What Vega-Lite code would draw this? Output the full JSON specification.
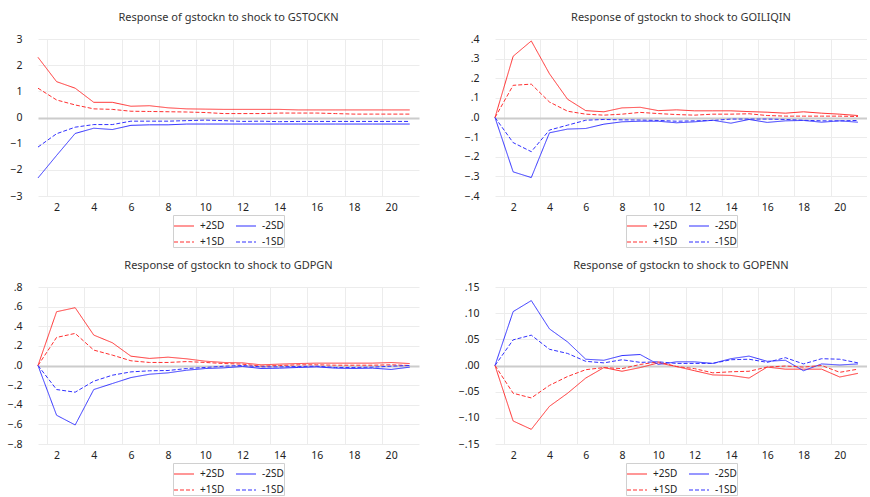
{
  "$schema": "https://vega.github.io/schema/vega-lite/v6.json",
  "padding": {"top": 12, "left": 0, "right": 0, "bottom": 0},
  "background": "white",
  "config": {
    "font": "Noto Sans",
    "view": {"stroke": null},
    "axis": {"domain": false, "ticks": false, "labelFontSize": 10.5, "labelColor": "#222222", "title": null, "gridColor": "#ececec"},
    "title": {"fontSize": 11, "fontWeight": "normal", "color": "#333333", "offset": 11},
    "legend": {"orient": "bottom", "layout": {"bottom": {"anchor": "middle"}}, "columns": 2, "title": null, "symbolType": "stroke", "symbolSize": 400, "symbolStrokeWidth": 1.2, "labelFontSize": 10, "labelOffset": 5, "columnPadding": 8, "rowPadding": -8, "strokeColor": "#d0d0d0", "padding": 0, "offset": 2, "labelColor": "#222222"}
  },
  "datasets": {
    "irf": [
      {"panel":"GSTOCKN","period":1,"+2SD":2.3,"-2SD":-2.31,"+1SD":1.12,"-1SD":-1.13},
      {"panel":"GSTOCKN","period":2,"+2SD":1.37,"-2SD":-1.45,"+1SD":0.67,"-1SD":-0.62},
      {"panel":"GSTOCKN","period":3,"+2SD":1.12,"-2SD":-0.61,"+1SD":0.48,"-1SD":-0.37},
      {"panel":"GSTOCKN","period":4,"+2SD":0.58,"-2SD":-0.41,"+1SD":0.33,"-1SD":-0.27},
      {"panel":"GSTOCKN","period":5,"+2SD":0.58,"-2SD":-0.46,"+1SD":0.31,"-1SD":-0.27},
      {"panel":"GSTOCKN","period":6,"+2SD":0.43,"-2SD":-0.3,"+1SD":0.24,"-1SD":-0.14},
      {"panel":"GSTOCKN","period":7,"+2SD":0.45,"-2SD":-0.28,"+1SD":0.23,"-1SD":-0.14},
      {"panel":"GSTOCKN","period":8,"+2SD":0.37,"-2SD":-0.28,"+1SD":0.22,"-1SD":-0.14},
      {"panel":"GSTOCKN","period":9,"+2SD":0.33,"-2SD":-0.25,"+1SD":0.21,"-1SD":-0.12},
      {"panel":"GSTOCKN","period":10,"+2SD":0.32,"-2SD":-0.25,"+1SD":0.19,"-1SD":-0.1},
      {"panel":"GSTOCKN","period":11,"+2SD":0.31,"-2SD":-0.25,"+1SD":0.15,"-1SD":-0.12},
      {"panel":"GSTOCKN","period":12,"+2SD":0.31,"-2SD":-0.25,"+1SD":0.15,"-1SD":-0.15},
      {"panel":"GSTOCKN","period":13,"+2SD":0.31,"-2SD":-0.25,"+1SD":0.15,"-1SD":-0.14},
      {"panel":"GSTOCKN","period":14,"+2SD":0.31,"-2SD":-0.25,"+1SD":0.17,"-1SD":-0.16},
      {"panel":"GSTOCKN","period":15,"+2SD":0.29,"-2SD":-0.25,"+1SD":0.17,"-1SD":-0.15},
      {"panel":"GSTOCKN","period":16,"+2SD":0.29,"-2SD":-0.25,"+1SD":0.17,"-1SD":-0.15},
      {"panel":"GSTOCKN","period":17,"+2SD":0.29,"-2SD":-0.25,"+1SD":0.15,"-1SD":-0.15},
      {"panel":"GSTOCKN","period":18,"+2SD":0.29,"-2SD":-0.25,"+1SD":0.13,"-1SD":-0.15},
      {"panel":"GSTOCKN","period":19,"+2SD":0.29,"-2SD":-0.25,"+1SD":0.13,"-1SD":-0.15},
      {"panel":"GSTOCKN","period":20,"+2SD":0.29,"-2SD":-0.25,"+1SD":0.13,"-1SD":-0.15},
      {"panel":"GSTOCKN","period":21,"+2SD":0.29,"-2SD":-0.25,"+1SD":0.13,"-1SD":-0.15},

      {"panel":"GOILIQIN","period":1,"+2SD":0,"-2SD":0,"+1SD":0,"-1SD":0},
      {"panel":"GOILIQIN","period":2,"+2SD":0.312,"-2SD":-0.277,"+1SD":0.164,"-1SD":-0.128},
      {"panel":"GOILIQIN","period":3,"+2SD":0.39,"-2SD":-0.306,"+1SD":0.17,"-1SD":-0.174},
      {"panel":"GOILIQIN","period":4,"+2SD":0.223,"-2SD":-0.078,"+1SD":0.079,"-1SD":-0.064},
      {"panel":"GOILIQIN","period":5,"+2SD":0.093,"-2SD":-0.059,"+1SD":0.032,"-1SD":-0.039},
      {"panel":"GOILIQIN","period":6,"+2SD":0.035,"-2SD":-0.056,"+1SD":0.017,"-1SD":-0.014},
      {"panel":"GOILIQIN","period":7,"+2SD":0.029,"-2SD":-0.034,"+1SD":0.012,"-1SD":-0.01},
      {"panel":"GOILIQIN","period":8,"+2SD":0.049,"-2SD":-0.022,"+1SD":0.017,"-1SD":-0.012},
      {"panel":"GOILIQIN","period":9,"+2SD":0.052,"-2SD":-0.019,"+1SD":0.026,"-1SD":-0.013},
      {"panel":"GOILIQIN","period":10,"+2SD":0.035,"-2SD":-0.019,"+1SD":0.02,"-1SD":-0.015},
      {"panel":"GOILIQIN","period":11,"+2SD":0.039,"-2SD":-0.027,"+1SD":0.015,"-1SD":-0.019},
      {"panel":"GOILIQIN","period":12,"+2SD":0.034,"-2SD":-0.022,"+1SD":0.012,"-1SD":-0.017},
      {"panel":"GOILIQIN","period":13,"+2SD":0.034,"-2SD":-0.014,"+1SD":0.017,"-1SD":-0.015},
      {"panel":"GOILIQIN","period":14,"+2SD":0.034,"-2SD":-0.029,"+1SD":0.017,"-1SD":-0.008},
      {"panel":"GOILIQIN","period":15,"+2SD":0.03,"-2SD":-0.01,"+1SD":0.019,"-1SD":-0.008},
      {"panel":"GOILIQIN","period":16,"+2SD":0.027,"-2SD":-0.025,"+1SD":0.01,"-1SD":-0.008},
      {"panel":"GOILIQIN","period":17,"+2SD":0.022,"-2SD":-0.017,"+1SD":0.007,"-1SD":-0.01},
      {"panel":"GOILIQIN","period":18,"+2SD":0.029,"-2SD":-0.015,"+1SD":0.007,"-1SD":-0.014},
      {"panel":"GOILIQIN","period":19,"+2SD":0.022,"-2SD":-0.024,"+1SD":0.007,"-1SD":-0.017},
      {"panel":"GOILIQIN","period":20,"+2SD":0.017,"-2SD":-0.017,"+1SD":0.007,"-1SD":-0.017},
      {"panel":"GOILIQIN","period":21,"+2SD":0.01,"-2SD":-0.024,"+1SD":0.005,"-1SD":-0.015},

      {"panel":"GDPGN","period":1,"+2SD":0,"-2SD":0,"+1SD":0,"-1SD":0},
      {"panel":"GDPGN","period":2,"+2SD":0.548,"-2SD":-0.507,"+1SD":0.286,"-1SD":-0.245},
      {"panel":"GDPGN","period":3,"+2SD":0.589,"-2SD":-0.606,"+1SD":0.327,"-1SD":-0.272},
      {"panel":"GDPGN","period":4,"+2SD":0.31,"-2SD":-0.245,"+1SD":0.157,"-1SD":-0.16},
      {"panel":"GDPGN","period":5,"+2SD":0.232,"-2SD":-0.184,"+1SD":0.106,"-1SD":-0.099},
      {"panel":"GDPGN","period":6,"+2SD":0.095,"-2SD":-0.123,"+1SD":0.048,"-1SD":-0.065},
      {"panel":"GDPGN","period":7,"+2SD":0.072,"-2SD":-0.089,"+1SD":0.031,"-1SD":-0.054},
      {"panel":"GDPGN","period":8,"+2SD":0.085,"-2SD":-0.075,"+1SD":0.031,"-1SD":-0.051},
      {"panel":"GDPGN","period":9,"+2SD":0.068,"-2SD":-0.048,"+1SD":0.04,"-1SD":-0.031},
      {"panel":"GDPGN","period":10,"+2SD":0.044,"-2SD":-0.031,"+1SD":0.031,"-1SD":-0.02},
      {"panel":"GDPGN","period":11,"+2SD":0.031,"-2SD":-0.024,"+1SD":0.02,"-1SD":-0.007},
      {"panel":"GDPGN","period":12,"+2SD":0.027,"-2SD":-0.01,"+1SD":0.014,"-1SD":0},
      {"panel":"GDPGN","period":13,"+2SD":0.007,"-2SD":-0.03,"+1SD":-0.007,"-1SD":-0.014},
      {"panel":"GDPGN","period":14,"+2SD":0.014,"-2SD":-0.027,"+1SD":0,"-1SD":-0.014},
      {"panel":"GDPGN","period":15,"+2SD":0.02,"-2SD":-0.02,"+1SD":0.007,"-1SD":-0.01},
      {"panel":"GDPGN","period":16,"+2SD":0.024,"-2SD":-0.014,"+1SD":0.007,"-1SD":-0.007},
      {"panel":"GDPGN","period":17,"+2SD":0.024,"-2SD":-0.027,"+1SD":0.003,"-1SD":-0.02},
      {"panel":"GDPGN","period":18,"+2SD":0.024,"-2SD":-0.03,"+1SD":0.003,"-1SD":-0.02},
      {"panel":"GDPGN","period":19,"+2SD":0.024,"-2SD":-0.027,"+1SD":0.003,"-1SD":-0.017},
      {"panel":"GDPGN","period":20,"+2SD":0.03,"-2SD":-0.04,"+1SD":0.007,"-1SD":-0.007},
      {"panel":"GDPGN","period":21,"+2SD":0.02,"-2SD":-0.017,"+1SD":0,"-1SD":0},

      {"panel":"GOPENN","period":1,"+2SD":0,"-2SD":0,"+1SD":0,"-1SD":0},
      {"panel":"GOPENN","period":2,"+2SD":-0.106,"-2SD":0.103,"+1SD":-0.053,"-1SD":0.049},
      {"panel":"GOPENN","period":3,"+2SD":-0.122,"-2SD":0.124,"+1SD":-0.062,"-1SD":0.058},
      {"panel":"GOPENN","period":4,"+2SD":-0.078,"-2SD":0.07,"+1SD":-0.038,"-1SD":0.031},
      {"panel":"GOPENN","period":5,"+2SD":-0.053,"-2SD":0.045,"+1SD":-0.021,"-1SD":0.023},
      {"panel":"GOPENN","period":6,"+2SD":-0.024,"-2SD":0.012,"+1SD":-0.008,"-1SD":0.008},
      {"panel":"GOPENN","period":7,"+2SD":-0.004,"-2SD":0.01,"+1SD":-0.004,"-1SD":0.005},
      {"panel":"GOPENN","period":8,"+2SD":-0.011,"-2SD":0.019,"+1SD":-0.006,"-1SD":0.011},
      {"panel":"GOPENN","period":9,"+2SD":-0.004,"-2SD":0.021,"+1SD":0.002,"-1SD":0.006},
      {"panel":"GOPENN","period":10,"+2SD":0.005,"-2SD":0.002,"+1SD":0.007,"-1SD":0.007},
      {"panel":"GOPENN","period":11,"+2SD":-0.002,"-2SD":0.007,"+1SD":-0.002,"-1SD":0.004},
      {"panel":"GOPENN","period":12,"+2SD":-0.01,"-2SD":0.007,"+1SD":-0.006,"-1SD":0.004},
      {"panel":"GOPENN","period":13,"+2SD":-0.018,"-2SD":0.004,"+1SD":-0.014,"-1SD":0.004},
      {"panel":"GOPENN","period":14,"+2SD":-0.019,"-2SD":0.013,"+1SD":-0.012,"-1SD":0.011},
      {"panel":"GOPENN","period":15,"+2SD":-0.024,"-2SD":0.018,"+1SD":-0.011,"-1SD":0.012},
      {"panel":"GOPENN","period":16,"+2SD":-0.003,"-2SD":0.008,"+1SD":-0.003,"-1SD":0.006},
      {"panel":"GOPENN","period":17,"+2SD":-0.007,"-2SD":0.01,"+1SD":-0.001,"-1SD":0.015},
      {"panel":"GOPENN","period":18,"+2SD":-0.007,"-2SD":-0.01,"+1SD":-0.003,"-1SD":0.003},
      {"panel":"GOPENN","period":19,"+2SD":-0.007,"-2SD":0.003,"+1SD":0,"-1SD":0.013},
      {"panel":"GOPENN","period":20,"+2SD":-0.022,"-2SD":0.001,"+1SD":-0.013,"-1SD":0.012},
      {"panel":"GOPENN","period":21,"+2SD":-0.015,"-2SD":0.003,"+1SD":-0.007,"-1SD":0.005}
    ]
  },
  "spacing": 12,
  "resolve": {"scale": {"color": "independent", "strokeDash": "independent"}},
  "vconcat": [
    {
      "spacing": 38,
      "resolve": {"scale": {"color": "independent", "strokeDash": "independent"}},
      "hconcat": [
        {
          "title": "Response of gstockn to shock to GSTOCKN",
          "width": 381, "height": 157,
          "data": {"name": "irf"},
          "transform": [{"filter": "datum.panel === 'GSTOCKN'"}, {"fold": ["+2SD", "-2SD", "+1SD", "-1SD"], "as": ["series", "value"]}],
          "layer": [
            {
              "mark": {"type": "line", "strokeOpacity": 0},
              "encoding": {
                "x": {"field": "period", "type": "quantitative", "scale": {"domain": [1, 21.5], "nice": false, "zero": false}, "axis": {"orient": "top", "values": [1.5, 3.5, 5.5, 7.5, 9.5, 11.5, 13.5, 15.5, 17.5, 19.5], "labels": false, "grid": true}}
              }
            },
            {
              "mark": {"type": "line", "strokeWidth": 1},
              "encoding": {
                "x": {"field": "period", "type": "quantitative", "scale": {"domain": [1, 21.5], "nice": false, "zero": false}, "axis": {"values": [2, 4, 6, 8, 10, 12, 14, 16, 18, 20], "grid": false, "labelPadding": 6}},
                "y": {"field": "value", "type": "quantitative", "scale": {"domain": [-3, 3], "nice": false}, "axis": {"values": [-3, -2, -1, 0, 1, 2, 3], "format": "d", "labelPadding": 16, "minExtent": 38, "maxExtent": 38, "gridColor": {"condition": {"test": "datum.value === 0", "value": "#cccccc"}, "value": "#ececec"}, "gridWidth": {"condition": {"test": "datum.value === 0", "value": 2}, "value": 1}}},
                "color": {"field": "series", "type": "nominal", "scale": {"domain": ["+2SD", "-2SD", "+1SD", "-1SD"], "range": ["#ff3030", "#3030ff", "#ff3030", "#3030ff"]}},
                "strokeDash": {"field": "series", "type": "nominal", "scale": {"domain": ["+2SD", "-2SD", "+1SD", "-1SD"], "range": [[1, 0], [1, 0], [4, 2], [4, 2]]}}
              }
            }
          ],
          "resolve": {"axis": {"x": "independent"}}
        },
        {
          "title": "Response of gstockn to shock to GOILIQIN",
          "width": 372, "height": 157,
          "data": {"name": "irf"},
          "transform": [{"filter": "datum.panel === 'GOILIQIN'"}, {"fold": ["+2SD", "-2SD", "+1SD", "-1SD"], "as": ["series", "value"]}],
          "layer": [
            {
              "mark": {"type": "line", "strokeOpacity": 0},
              "encoding": {
                "x": {"field": "period", "type": "quantitative", "scale": {"domain": [1, 21.5], "nice": false, "zero": false}, "axis": {"orient": "top", "values": [1.5, 3.5, 5.5, 7.5, 9.5, 11.5, 13.5, 15.5, 17.5, 19.5], "labels": false, "grid": true}}
              }
            },
            {
              "mark": {"type": "line", "strokeWidth": 1},
              "encoding": {
                "x": {"field": "period", "type": "quantitative", "scale": {"domain": [1, 21.5], "nice": false, "zero": false}, "axis": {"values": [2, 4, 6, 8, 10, 12, 14, 16, 18, 20], "grid": false, "labelPadding": 6}},
                "y": {"field": "value", "type": "quantitative", "scale": {"domain": [-0.4, 0.4], "nice": false}, "axis": {"values": [-0.4, -0.3, -0.2, -0.1, 0, 0.1, 0.2, 0.3, 0.4], "labelExpr": "replace(format(datum.value, '.1f'), '0.', '.')", "labelPadding": 16, "minExtent": 38, "maxExtent": 38, "gridColor": {"condition": {"test": "datum.value === 0", "value": "#cccccc"}, "value": "#ececec"}, "gridWidth": {"condition": {"test": "datum.value === 0", "value": 2}, "value": 1}}},
                "color": {"field": "series", "type": "nominal", "scale": {"domain": ["+2SD", "-2SD", "+1SD", "-1SD"], "range": ["#ff3030", "#3030ff", "#ff3030", "#3030ff"]}},
                "strokeDash": {"field": "series", "type": "nominal", "scale": {"domain": ["+2SD", "-2SD", "+1SD", "-1SD"], "range": [[1, 0], [1, 0], [4, 2], [4, 2]]}}
              }
            }
          ],
          "resolve": {"axis": {"x": "independent"}}
        }
      ]
    },
    {
      "spacing": 38,
      "resolve": {"scale": {"color": "independent", "strokeDash": "independent"}},
      "hconcat": [
        {
          "title": "Response of gstockn to shock to GDPGN",
          "width": 381, "height": 157,
          "data": {"name": "irf"},
          "transform": [{"filter": "datum.panel === 'GDPGN'"}, {"fold": ["+2SD", "-2SD", "+1SD", "-1SD"], "as": ["series", "value"]}],
          "layer": [
            {
              "mark": {"type": "line", "strokeOpacity": 0},
              "encoding": {
                "x": {"field": "period", "type": "quantitative", "scale": {"domain": [1, 21.5], "nice": false, "zero": false}, "axis": {"orient": "top", "values": [1.5, 3.5, 5.5, 7.5, 9.5, 11.5, 13.5, 15.5, 17.5, 19.5], "labels": false, "grid": true}}
              }
            },
            {
              "mark": {"type": "line", "strokeWidth": 1},
              "encoding": {
                "x": {"field": "period", "type": "quantitative", "scale": {"domain": [1, 21.5], "nice": false, "zero": false}, "axis": {"values": [2, 4, 6, 8, 10, 12, 14, 16, 18, 20], "grid": false, "labelPadding": 6}},
                "y": {"field": "value", "type": "quantitative", "scale": {"domain": [-0.8, 0.8], "nice": false}, "axis": {"values": [-0.8, -0.6, -0.4, -0.2, 0, 0.2, 0.4, 0.6, 0.8], "labelExpr": "replace(format(datum.value, '.1f'), '0.', '.')", "labelPadding": 16, "minExtent": 38, "maxExtent": 38, "gridColor": {"condition": {"test": "datum.value === 0", "value": "#cccccc"}, "value": "#ececec"}, "gridWidth": {"condition": {"test": "datum.value === 0", "value": 2}, "value": 1}}},
                "color": {"field": "series", "type": "nominal", "scale": {"domain": ["+2SD", "-2SD", "+1SD", "-1SD"], "range": ["#ff3030", "#3030ff", "#ff3030", "#3030ff"]}},
                "strokeDash": {"field": "series", "type": "nominal", "scale": {"domain": ["+2SD", "-2SD", "+1SD", "-1SD"], "range": [[1, 0], [1, 0], [4, 2], [4, 2]]}}
              }
            }
          ],
          "resolve": {"axis": {"x": "independent"}}
        },
        {
          "title": "Response of gstockn to shock to GOPENN",
          "width": 372, "height": 157,
          "data": {"name": "irf"},
          "transform": [{"filter": "datum.panel === 'GOPENN'"}, {"fold": ["+2SD", "-2SD", "+1SD", "-1SD"], "as": ["series", "value"]}],
          "layer": [
            {
              "mark": {"type": "line", "strokeOpacity": 0},
              "encoding": {
                "x": {"field": "period", "type": "quantitative", "scale": {"domain": [1, 21.5], "nice": false, "zero": false}, "axis": {"orient": "top", "values": [1.5, 3.5, 5.5, 7.5, 9.5, 11.5, 13.5, 15.5, 17.5, 19.5], "labels": false, "grid": true}}
              }
            },
            {
              "mark": {"type": "line", "strokeWidth": 1},
              "encoding": {
                "x": {"field": "period", "type": "quantitative", "scale": {"domain": [1, 21.5], "nice": false, "zero": false}, "axis": {"values": [2, 4, 6, 8, 10, 12, 14, 16, 18, 20], "grid": false, "labelPadding": 6}},
                "y": {"field": "value", "type": "quantitative", "scale": {"domain": [-0.15, 0.15], "nice": false}, "axis": {"values": [-0.15, -0.1, -0.05, 0, 0.05, 0.1, 0.15], "labelExpr": "replace(format(datum.value, '.2f'), '0.', '.')", "labelPadding": 16, "minExtent": 38, "maxExtent": 38, "gridColor": {"condition": {"test": "datum.value === 0", "value": "#cccccc"}, "value": "#ececec"}, "gridWidth": {"condition": {"test": "datum.value === 0", "value": 2}, "value": 1}}},
                "color": {"field": "series", "type": "nominal", "scale": {"domain": ["+2SD", "-2SD", "+1SD", "-1SD"], "range": ["#ff3030", "#3030ff", "#ff3030", "#3030ff"]}},
                "strokeDash": {"field": "series", "type": "nominal", "scale": {"domain": ["+2SD", "-2SD", "+1SD", "-1SD"], "range": [[1, 0], [1, 0], [4, 2], [4, 2]]}}
              }
            }
          ],
          "resolve": {"axis": {"x": "independent"}}
        }
      ]
    }
  ]
}
